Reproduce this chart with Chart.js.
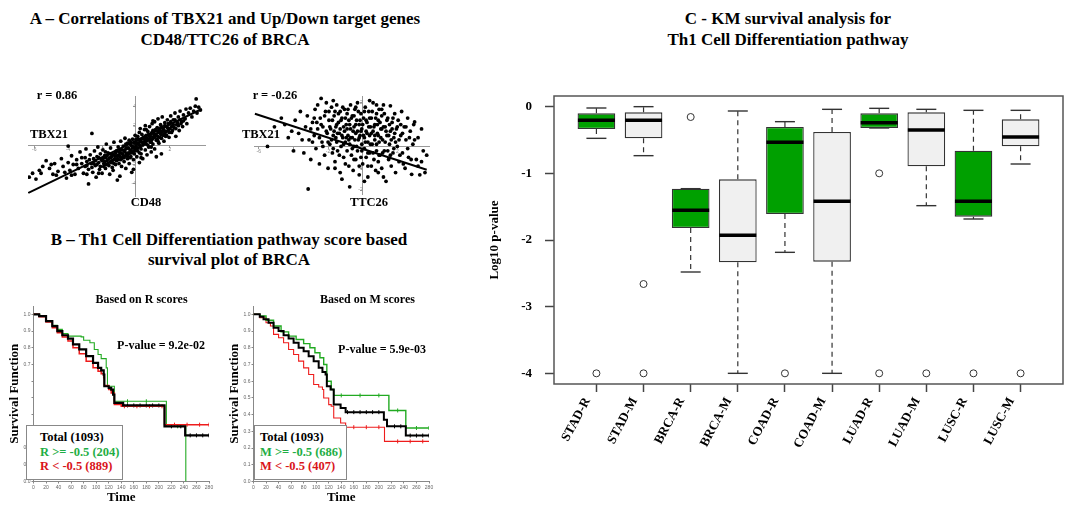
<!DOCTYPE html>
<html><head><meta charset="utf-8">
<script src="https://cdn.jsdelivr.net/npm/chart.js@4.4.1/dist/chart.umd.min.js"></script>
<style>
html,body{margin:0;padding:0;background:#fff;}
#root{position:relative;width:1068px;height:513px;overflow:hidden;font-family:'Liberation Serif','Times New Roman',serif;font-weight:bold;color:#000;}
canvas{position:absolute;}
.t{position:absolute;transform:translate(-50%,-50%);white-space:nowrap;line-height:1;}
.h{position:absolute;font-size:17px;line-height:21px;text-align:center;white-space:nowrap;}
.lg{position:absolute;border:1px solid #888;box-sizing:border-box;padding:4px 0 0 13px;font-size:12.5px;line-height:14.5px;white-space:nowrap;background:#fff;}
.g{color:#1fae45;} .r{color:#d9141b;}
</style></head><body>
<div id="root">
  <div class="h" style="left:0;top:8px;width:450px">A – Correlations of TBX21 and Up/Down target genes<br>CD48/TTC26 of BRCA</div>
  <div class="h" style="left:0;top:230px;width:458px;line-height:19.5px">B – Th1 Cell Differentiation pathway score based<br>survival plot of BRCA</div>
  <div class="h" style="left:588px;top:7.5px;width:400px">C - KM survival analysis for<br>Th1 Cell Differentiation pathway</div>

  <canvas id="cA1" width="178" height="108" style="left:28px;top:92px"></canvas>
  <canvas id="cA2" width="176" height="106" style="left:254px;top:92px"></canvas>
  <canvas id="cB1" width="225" height="213" style="left:0px;top:300px"></canvas>
  <canvas id="cB2" width="225" height="213" style="left:220px;top:300px"></canvas>
  <canvas id="cC" width="588" height="423" style="left:480px;top:90px"></canvas>

  <div class="t" style="left:57px;top:95px;font-size:12.5px">r = 0.86</div>
  <div class="t" style="left:49px;top:134px;font-size:12.5px">TBX21</div>
  <div class="t" style="left:146px;top:202px;font-size:12.5px">CD48</div>
  <div class="t" style="left:275px;top:95px;font-size:12.5px">r = -0.26</div>
  <div class="t" style="left:261px;top:134px;font-size:12.5px">TBX21</div>
  <div class="t" style="left:369px;top:202px;font-size:12.5px">TTC26</div>

  <div class="t" style="left:141.5px;top:299px;font-size:12px">Based on R scores</div>
  <div class="t" style="left:161px;top:345px;font-size:12px">P-value = 9.2e-02</div>
  <div class="lg" style="left:26px;top:425px;width:97px;height:55px">Total (1093)<br><span class="g">R &gt;= -0.5 (204)</span><br><span class="r">R &lt; -0.5 (889)</span></div>

  <div class="t" style="left:367.5px;top:299px;font-size:12px">Based on M scores</div>
  <div class="t" style="left:382px;top:349px;font-size:12px">P-value = 5.9e-03</div>
  <div class="lg" style="left:254px;top:425px;width:93px;height:55px;padding-left:5px">Total (1093)<br><span class="g">M &gt;= -0.5 (686)</span><br><span class="r">M &lt; -0.5 (407)</span></div>
</div>
<script>
// ---------------- Panel A data ----------------
const cd48Points = [
[-6.3,-3.3],[-6.1,-2.9],[-5.9,-3.5],[-5.7,-2.6],[-5.5,-2.2],[-5.3,-1.6],[-5.1,-2.4],[-4.9,-3.0],[-4.8,-1.9],[-4.6,-2.7],[-4.4,-1.4],[-4.3,-2.2],[-4.1,-3.4],[-4.0,-0.1],[-4.0,-1.8],
[-3.9,-2.6],[-3.8,-1.1],[-3.7,-2.0],[-3.6,-3.0],[-3.5,-1.5],[-3.4,-2.4],[-3.3,-0.7],[-3.2,-1.9],[-3.1,-2.9],[-3.0,-1.3],[-3.0,-2.2],
[-2.95,-0.4],[-2.9,-1.7],[-2.8,-4.0],[-2.8,-2.5],[-2.7,-1.0],[-2.65,-1.9],[-2.6,1.2],[-2.55,-2.8],[-2.5,-1.4],[-2.45,-0.6],[-2.4,-2.1],[-2.35,-3.3],[-2.3,-1.2],[-2.25,-0.2],[-2.2,-1.8],[-2.15,-2.5],[-2.1,-0.9],[-2.05,-1.5],
[-2.0,-2.9],[-1.95,-0.5],[-1.9,-1.9],[-1.85,-1.1],[-1.8,-2.4],[-1.75,0.1],[-1.7,-1.6],[-1.65,-0.8],[-1.6,-2.1],[-1.55,-3.0],[-1.5,-1.3],[-1.5,-0.3],[-1.45,-1.8],[-1.4,-0.9],[-1.35,-2.6],[-1.3,-1.5],[-1.3,0.3],[-1.25,-1.1],[-1.2,-2.0],[-1.15,-0.6],[-1.1,-1.4],[-1.1,-3.6],[-1.05,-0.2],[-1.0,-1.9],[-1.0,-1.0],
[-0.95,-3.2],[-0.95,-0.5],[-0.9,-1.5],[-0.9,0.4],[-0.85,-2.2],[-0.8,-0.9],[-0.8,-1.3],[-0.75,-0.1],[-0.7,-1.7],[-0.7,-0.6],[-0.65,0.7],[-0.6,-1.1],[-0.6,-2.4],[-0.55,-0.3],[-0.5,-1.4],[-0.5,0.2],[-0.45,-0.8],[-0.4,-1.9],[-0.4,0.5],[-0.35,-0.5],[-0.3,-1.2],[-0.3,0.0],[-0.25,-2.8],[-0.25,-0.8],[-0.2,0.6],[-0.2,-0.3],[-0.15,-1.5],[-0.1,0.2],[-0.1,-0.9],[-0.05,1.0],[-0.05,-0.4],[-0.15,-2.5],
[0.0,-0.1],[0.05,0.5],[0.05,-1.2],[0.1,0.9],[0.1,-0.6],[0.15,0.2],[0.2,-1.8],[0.2,1.3],[0.25,-0.2],[0.3,0.6],[0.3,-0.9],[0.35,1.1],[0.4,0.0],[0.4,-1.4],[0.45,0.8],[0.5,0.3],[0.5,1.6],[0.55,-0.5],[0.6,1.0],[0.6,0.1],[0.65,-1.0],[0.7,1.4],[0.7,0.5],[0.75,-0.2],[0.8,0.9],[0.8,1.9],[0.85,0.3],[0.9,-0.7],[0.9,1.2],[0.95,0.6],[0.95,2.2],[0.55,2.0],[0.25,1.7],
[1.0,0.1],[1.0,1.5],[1.05,0.9],[1.1,2.4],[1.1,-0.4],[1.15,1.1],[1.2,0.5],[1.25,1.8],[1.3,0.9],[1.3,2.7],[1.35,0.2],[1.4,1.4],[1.45,2.1],[1.5,0.7],[1.5,1.1],[1.55,2.9],[1.6,1.7],[1.65,0.4],[1.7,2.3],[1.7,1.2],[1.75,0.9],[1.8,1.9],[1.85,2.6],[1.9,1.5],[1.95,0.8],[1.5,-0.9],[1.2,-1.2],
[2.0,2.2],[2.05,3.0],[2.1,1.3],[2.2,2.6],[2.25,1.8],[2.3,3.3],[2.35,0.9],[2.4,2.1],[2.5,2.9],[2.55,1.5],[2.6,3.5],[2.7,2.4],[2.75,1.9],[2.8,3.1],[2.9,2.7],[2.95,3.7],
[3.0,2.2],[3.1,3.3],[3.2,3.8],[3.3,2.9],[3.4,3.5],[3.5,4.0],[3.55,4.75],[3.6,3.3],[3.7,3.9],[3.8,3.6],
[-2.9,-2.1],[-2.75,-1.5],[-2.6,-2.3],[-2.5,-1.9],[-2.4,-1.6],[-2.3,-2.0],[-2.2,-1.3],[-2.1,-2.2],[-2.0,-1.6],[-1.95,-1.4],[-1.9,-2.2],[-1.85,-1.7],[-1.8,-1.3],[-1.75,-2.0],[-1.7,-1.1],[-1.65,-1.9],[-1.6,-1.4],[-1.55,-0.9],[-1.5,-1.7],[-1.45,-1.2],[-1.4,-1.6],[-1.35,-1.0],[-1.3,-1.9],[-1.25,-1.4],[-1.2,-0.8],[-1.15,-1.6],[-1.1,-1.1],[-1.05,-1.5],[-1.0,-0.7],[-0.95,-1.2],[-0.9,-0.8],[-0.85,-1.4],[-0.8,-0.5],[-0.75,-1.1],[-0.7,-1.3],[-0.65,-0.7],[-0.6,-0.4],[-0.55,-0.9],[-0.5,-1.1],[-0.45,-0.3],[-0.4,-0.9],[-0.35,-1.3],[-0.3,-0.6],[-0.25,-0.1],[-0.2,-0.7],[-0.15,-0.2],[-0.1,-0.6],[-0.05,0.3],[0.0,-0.3],[0.05,0.1],[0.1,-0.3],[0.15,0.6],[0.2,0.0],[0.25,0.4],[0.3,-0.4],[0.35,0.3],[0.4,0.7],[0.45,0.1],[0.5,0.6],[0.55,0.9],[0.6,0.4],[0.65,0.7],[0.7,0.0],[0.75,1.1],[0.8,0.6],[0.85,0.9],[0.9,0.3],[0.95,1.3],[1.0,0.7],[1.05,1.2],[1.1,0.8],[1.15,1.6],[1.2,1.0],[1.25,0.6],[1.3,1.3],[1.35,1.7],[1.4,0.8],[1.45,1.2],[1.5,1.9],[1.55,1.4],[1.6,1.0],[1.65,1.5],[1.7,2.0],[1.75,1.4],[1.8,1.0],[1.85,1.8],[1.9,2.2],[1.95,1.3],[2.0,1.7],[2.05,2.4],[2.1,1.9],[2.15,1.5],[2.2,2.1],[2.3,2.6],[2.35,1.7],[2.45,2.3],[2.5,2.0],[2.6,2.6],[2.65,2.2],[2.8,2.5],[0.3,-1.3],[-0.6,0.1],[0.9,-0.2],[-1.8,-0.7],[1.3,0.4],[0.0,0.6],[-0.3,0.3],[0.6,1.6],[-2.2,-2.9],[-1.4,-2.3],[0.2,-0.8],[1.0,2.5],[-3.2,-1.3],[-3.5,-2.0],[-3.8,-3.1],[-2.9,-3.0],[-4.2,-2.8],[-5.0,-2.0],[-4.7,-3.1],[-5.6,-2.9]
];
const cd48Line = [[-6.35,-4.92],[3.88,3.71]];
const cd48XTicks = [-6,-4,-2,2];
const cd48YTicks = [4,2,-2,-4];

const ttc26Points = [
[-5.5,0.0],[-5.1,0.9],[-4.7,1.3],[-4.5,1.0],[-4.3,0.4],[-4.0,-0.2],[-3.9,1.2],[-3.7,0.6],[-3.6,1.6],
[-3.4,-0.3],[-3.3,0.9],[-3.2,1.4],[-3.15,-1.95],[-3.1,0.3],[-3.0,-0.6],[-2.9,1.1],[-2.8,0.5],[-2.75,1.7],[-2.7,-0.1],[-2.6,0.8],[-2.5,-0.8],[-2.45,1.3],[-2.4,2.2],[-2.35,0.2],[-2.3,0.9],[-2.2,-0.4],[-2.15,1.6],[-2.1,2.0],[-2.05,0.6],
[-2.0,-1.0],[-1.95,1.2],[-1.9,0.1],[-1.85,0.8],[-1.8,1.8],[-1.75,-0.3],[-1.7,0.5],[-1.65,1.4],[-1.6,-0.7],[-1.55,0.9],[-1.5,0.2],[-1.5,1.9],[-1.45,-0.2],[-1.4,1.1],[-1.35,0.6],[-1.3,-1.2],[-1.3,1.6],[-1.25,0.0],[-1.2,1.3],[-1.2,-1.5],[-1.15,0.4],[-1.1,0.9],[-1.1,-0.5],[-1.05,1.7],[-1.0,0.2],
[-0.95,1.0],[-0.9,-0.2],[-0.9,1.5],[-0.85,0.5],[-0.8,-0.9],[-0.8,1.2],[-0.75,0.1],[-0.75,-1.85],[-0.7,0.8],[-0.7,1.9],[-0.65,-0.4],[-0.6,0.4],[-0.6,1.4],[-0.55,-1.1],[-0.5,0.9],[-0.5,0.0],[-0.45,1.7],[-0.4,-0.6],[-0.4,0.6],[-0.35,1.2],[-0.3,-0.2],[-0.3,2.0],[-0.25,0.3],[-0.2,-1.3],[-0.2,1.0],[-0.15,0.5],[-0.1,-0.5],[-0.1,1.5],[-0.05,0.1],[-0.05,0.8],
[0.0,-0.8],[0.05,1.3],[0.1,0.4],[0.1,-0.1],[0.15,1.8],[0.2,0.7],[0.2,-0.5],[0.25,1.1],[0.3,-1.4],[0.3,0.2],[0.35,1.6],[0.4,0.5],[0.4,-0.3],[0.45,0.9],[0.5,-0.9],[0.5,1.3],[0.55,0.1],[0.6,0.7],[0.6,2.0],[0.65,-0.6],[0.7,1.0],[0.7,0.3],[0.75,-1.1],[0.8,1.5],[0.8,-0.2],[0.85,0.6],[0.9,1.2],[0.9,-0.7],[0.95,0.2],[0.95,1.7],
[1.0,-0.4],[1.05,0.8],[1.1,1.4],[1.1,-1.0],[1.15,0.3],[1.2,1.9],[1.25,-0.2],[1.3,0.9],[1.35,-1.6],[1.4,0.5],[1.45,1.3],[1.5,-0.6],[1.55,0.1],[1.6,1.86],[1.6,0.7],[1.65,-0.9],[1.7,1.1],[1.75,-0.3],[1.8,0.4],[1.85,1.5],[1.9,-1.2],[1.95,0.8],
[2.0,0.0],[2.05,1.2],[2.1,-0.7],[2.2,0.5],[2.25,1.6],[2.3,-0.3],[2.4,0.9],[2.45,-1.0],[2.5,0.3],[2.6,1.3],[2.65,-0.5],[2.75,0.7],[2.83,-1.28],[2.9,0.1],[2.95,1.0],
[3.0,1.12],[3.1,-0.6],[3.2,0.4],[3.3,-1.3],[3.4,0.8],[3.5,-0.2],[3.6,-1.2],[3.7,-0.4],
[-2.5,0.4],[-2.4,1.0],[-2.3,0.0],[-2.2,1.4],[-2.1,0.7],[-2.0,0.2],[-1.95,1.6],[-1.9,0.9],[-1.8,0.3],[-1.75,1.2],[-1.7,-0.1],[-1.65,0.7],[-1.6,1.6],[-1.55,0.4],[-1.5,1.0],[-1.45,0.6],[-1.4,1.5],[-1.35,-0.4],[-1.3,0.8],[-1.25,1.2],[-1.2,0.5],[-1.15,1.8],[-1.1,0.1],[-1.05,0.7],[-1.0,1.3],[-0.95,0.4],[-0.9,0.8],[-0.85,1.7],[-0.8,0.3],[-0.75,1.0],[-0.7,0.4],[-0.65,1.3],[-0.6,-0.1],[-0.55,0.7],[-0.5,1.4],[-0.45,0.3],[-0.4,1.0],[-0.35,0.0],[-0.3,0.7],[-0.25,1.6],[-0.2,0.4],[-0.15,1.2],[-0.1,0.7],[-0.05,-0.2],[0.0,1.0],[0.05,0.5],[0.1,1.6],[0.15,0.2],[0.2,1.2],[0.25,0.6],[0.3,-0.3],[0.35,0.9],[0.4,1.3],[0.45,0.1],[0.5,0.6],[0.55,1.6],[0.6,-0.3],[0.65,0.9],[0.7,0.5],[0.75,1.3],[0.8,0.1],[0.85,1.0],[0.9,0.5],[0.95,-0.4],[1.0,1.1],[1.05,0.4],[1.1,0.8],[1.15,-0.3],[1.2,0.9],[1.25,1.5],[1.3,0.2],[1.35,0.7],[1.4,1.2],[1.45,-0.2],[1.5,0.5],[1.55,1.0],[1.6,-0.4],[1.65,0.3],[1.7,0.8],[1.75,1.3],[1.8,-0.1],[1.85,0.6],[1.9,0.2],[2.0,0.9],[2.1,0.3],[2.15,-0.4],[2.2,1.0],[2.3,0.6],[2.35,-0.8],[2.5,0.9],[2.6,-0.1],[2.7,0.4],[2.8,-0.6],[3.0,0.3],[3.2,-0.9],[3.4,-0.7],[-3.0,0.8],[-2.9,0.2],[-2.65,1.1],[-2.8,1.3],[-3.5,0.3],[-4.1,0.7],[-0.5,-0.6],[-1.0,-0.8],[0.3,-0.9],[-0.2,-0.9],[0.9,-1.2],[-1.6,-1.0],[1.2,-1.4],[0.1,-1.6],[-0.4,1.8],[0.8,1.9],[-1.7,2.1],[0.4,2.1],[1.1,1.7],[-2.6,1.9]
];
const ttc26Line = [[-6.23,1.5],[3.7,-1.07]];
const ttc26XTicks = [-6,-4,-2,2];
const ttc26YTicks = [2,1,-1,-2];

// ---------------- Panel B data (Kaplan-Meier) ----------------
const kmTimeTicks = [0,20,40,60,80,100,120,140,160,180,200,220,240,260,280];
const kmSurvTicks = [0,0.1,0.2,0.3,0.4,0.5,0.6,0.7,0.8,0.9,1.0];

const rTotalTime = [0,9,20,30,38,46,55,63,73,84,95,103,108,112,113,120,124,127,129,143,209,242,280];
const rTotalSurv = [1.0,0.99,0.96,0.93,0.90,0.875,0.855,0.82,0.79,0.75,0.71,0.68,0.665,0.64,0.57,0.56,0.55,0.52,0.47,0.455,0.33,0.276,0.276];
const rTotalCensor = [[150,0.455],[160,0.455],[170,0.455],[180,0.455],[190,0.455],[200,0.455],[220,0.33],[235,0.33],[250,0.276],[260,0.276],[270,0.276],[280,0.276]];
const rHighTime = [0,10,20,30,38,46,55,76,80,90,97,103,108,116,118,129,212,243,243];
const rHighSurv = [1.0,0.99,0.96,0.935,0.91,0.885,0.87,0.865,0.845,0.83,0.79,0.76,0.735,0.68,0.57,0.48,0.33,0.0,0.0];
const rHighCensor = [[150,0.48],[180,0.48],[230,0.33]];
const rLowTime = [0,9,20,30,38,46,55,63,73,84,95,103,108,112,113,120,124,129,140,209,280];
const rLowSurv = [1.0,0.985,0.955,0.92,0.89,0.865,0.84,0.80,0.765,0.72,0.68,0.66,0.645,0.62,0.575,0.55,0.53,0.46,0.45,0.34,0.34];
const rLowCensor = [[145,0.45],[165,0.45],[185,0.45],[205,0.45],[225,0.34],[245,0.34],[265,0.34],[280,0.34]];

const mTotalTime = [0,10,16,24,32,40,48,56,64,72,80,88,96,104,110,115,117,123,128,139,147,208,213,243,280];
const mTotalSurv = [1.0,0.985,0.97,0.95,0.92,0.90,0.875,0.855,0.83,0.80,0.78,0.75,0.72,0.68,0.655,0.64,0.57,0.55,0.46,0.44,0.415,0.37,0.33,0.275,0.275];
const mTotalCensor = [[150,0.415],[160,0.415],[170,0.415],[180,0.415],[190,0.415],[200,0.415],[225,0.33],[235,0.33],[250,0.275],[260,0.275],[270,0.275],[280,0.275]];
const mHighTime = [0,10,20,32,44,56,68,80,90,98,106,112,117,124,128,216,243,280];
const mHighSurv = [1.0,0.99,0.965,0.93,0.895,0.87,0.85,0.825,0.80,0.77,0.74,0.70,0.60,0.55,0.515,0.425,0.32,0.32];
const mHighCensor = [[140,0.515],[170,0.515],[200,0.515],[230,0.425],[260,0.32],[280,0.32]];
const mLowTime = [0,10,20,27,32,40,48,56,64,72,80,88,96,104,110,112,120,124,128,139,147,209,280];
const mLowSurv = [1.0,0.98,0.95,0.93,0.88,0.86,0.83,0.79,0.76,0.72,0.68,0.64,0.58,0.565,0.55,0.50,0.46,0.45,0.38,0.35,0.325,0.24,0.24];
const mLowCensor = [[160,0.325],[180,0.325],[200,0.325],[230,0.24],[250,0.24],[270,0.24]];

// ---------------- Panel C data (box plot) ----------------
const categories = ['STAD-R','STAD-M','BRCA-R','BRCA-M','COAD-R','COAD-M','LUAD-R','LUAD-M','LUSC-R','LUSC-M'];
const whiskerHigh = [-0.02,0.0,-1.23,-0.065,-0.225,-0.04,-0.025,-0.04,-0.055,-0.055];
const boxTop      = [-0.10,-0.085,-1.23,-1.09,-0.305,-0.38,-0.10,-0.085,-0.66,-0.19];
const medians     = [-0.205,-0.205,-1.555,-1.93,-0.535,-1.42,-0.24,-0.35,-1.42,-0.455];
const boxBottom   = [-0.335,-0.475,-1.82,-2.335,-1.61,-2.325,-0.32,-0.895,-1.65,-0.595];
const whiskerLow  = [-0.475,-0.735,-2.48,-4.0,-2.185,-4.0,-0.32,-1.485,-1.685,-0.86];
const outlierIndex  = [0,1,1,2,4,6,6,7,8,9];
const outlierValues = [-4,-2.66,-4,-0.155,-4,-1.0,-4,-4,-4,-4];
const boxYTicks = [0,-1,-2,-3,-4];

// ---------------- common ----------------
Chart.defaults.font.family = "'Liberation Serif','Times New Roman',serif";
Chart.defaults.font.weight = 'bold';
const base = {responsive:false, animation:false, devicePixelRatio:1, events:[],
  plugins:{legend:{display:false}, tooltip:{enabled:false}}};
const tiny = {size:5, weight:'normal', family:"'Liberation Sans',Arial,sans-serif"};
const setTicks = arr => s => { s.ticks = arr.map(v => ({value:v})); };
const noPad = s => { s.paddingLeft = 0; s.paddingRight = 0; s.paddingTop = 0; s.paddingBottom = 0; };

function scatterChart(id, pts, line, xr, yr, xt, yt) {
  new Chart(document.getElementById(id), {
    type:'scatter',
    data:{datasets:[
      {type:'line', data: line.map(p=>({x:p[0],y:p[1]})), borderColor:'#000', borderWidth:2, pointRadius:0},
      {type:'scatter', data: pts.map(p=>({x:p[0],y:p[1]})), backgroundColor:'#000', borderWidth:0, pointRadius:1.9}
    ]},
    options:Object.assign({}, base, {
      layout:{padding:0, autoPadding:false},
      scales:{
        x:{type:'linear', position:{y:0}, min:xr[0], max:xr[1], afterBuildTicks:setTicks(xt),
           grid:{drawOnChartArea:false, tickLength:2, tickColor:'#999'}, border:{color:'#999', width:1},
           ticks:{font:tiny, color:'#888', padding:0}},
        y:{type:'linear', position:{x:0}, min:yr[0], max:yr[1], afterBuildTicks:setTicks(yt),
           grid:{drawOnChartArea:false, tickLength:2, tickColor:'#999'}, border:{color:'#999', width:1},
           ticks:{font:tiny, color:'#888', padding:1}}
      }
    })
  });
}
scatterChart('cA1', cd48Points, cd48Line, [-6.37,4.13], [-5.24,5.05], cd48XTicks, cd48YTicks);
scatterChart('cA2', ttc26Points, ttc26Line, [-6.28,3.89], [-2.18,2.31], ttc26XTicks, ttc26YTicks);

function kmChart(id, curves, hidden) {
  const ds = [];
  curves.forEach(c => {
    ds.push({type:'line', data: c.t.map((t,i)=>({x:t, y:c.s[i]})), stepped:'before',
      borderColor:c.color, borderWidth:c.w, pointRadius:0, fill:false});
  });
  curves.forEach(c => {
    ds.push({type:'scatter', data: c.cens.map(p=>({x:p[0], y:p[1]})), pointStyle:'line', pointRotation:90,
      pointRadius:2, borderColor:c.color, borderWidth:1});
  });
  new Chart(document.getElementById(id), {
    type:'line',
    data:{datasets: ds},
    options:Object.assign({}, base, {
      layout:{padding:{top:6, right:16, left:0, bottom:0}, autoPadding:false},
      scales:{
        x:{type:'linear', min:0, max:280, afterBuildTicks:setTicks(kmTimeTicks), afterFit:s=>{s.height=31.5; noPad(s);},
           grid:{drawOnChartArea:false, tickLength:2, tickColor:'#888'}, border:{color:'#888', width:1},
           ticks:{font:tiny, color:'#666', padding:1, maxRotation:0, autoSkip:false},
           title:{display:true, text:'Time', color:'#000', font:{size:13, weight:'bold'}, padding:{top:0, bottom:8}}},
        y:{type:'linear', min:0, max:1.05, afterBuildTicks:setTicks(kmSurvTicks), afterFit:s=>{s.width=33.5; noPad(s);},
           grid:{drawOnChartArea:false, tickLength:2, tickColor:'#888'}, border:{color:'#888', width:1},
           ticks:{font:tiny, color:'#666', padding:1, autoSkip:false,
                  callback:v => hidden.some(h=>Math.abs(h-v)<1e-6) ? '' : Number(v).toFixed(1)},
           title:{display:true, text:'Survival Function', color:'#000', font:{size:13, weight:'bold'}, padding:{top:7, bottom:0}}}
      }
    })
  });
}
kmChart('cB1', [
  {t:rTotalTime, s:rTotalSurv, cens:rTotalCensor, color:'#000', w:2.2},
  {t:rLowTime, s:rLowSurv, cens:rLowCensor, color:'#ee1c1c', w:1.5},
  {t:rHighTime, s:rHighSurv, cens:rHighCensor, color:'#22aa22', w:1.1}
], [0.3,0.4,0.5,0.6]);
kmChart('cB2', [
  {t:mTotalTime, s:mTotalSurv, cens:mTotalCensor, color:'#000', w:2},
  {t:mHighTime, s:mHighSurv, cens:mHighCensor, color:'#22aa22', w:1.4},
  {t:mLowTime, s:mLowSurv, cens:mLowCensor, color:'#ee1c1c', w:1.1}
], []);

// box plot
const xPos = categories.map((c,i)=>i+1);
const whiskerData = [];
xPos.forEach((x,i)=>{
  whiskerData.push({x, y:boxTop[i]}, {x, y:whiskerHigh[i]}, {x, y:null},
                   {x, y:boxBottom[i]}, {x, y:whiskerLow[i]}, {x, y:null});
});
const capData = [];
xPos.forEach((x,i)=>{ capData.push({x, y:whiskerHigh[i]}, {x, y:whiskerLow[i]}); });
const framePlugin = {id:'frame', afterDraw(chart){
  const {ctx, chartArea:a} = chart;
  ctx.save(); ctx.strokeStyle='#555'; ctx.lineWidth=1.5;
  ctx.strokeRect(a.left, a.top, a.right-a.left, a.bottom-a.top); ctx.restore();
}};
new Chart(document.getElementById('cC'), {
  type:'bar',
  data:{datasets:[
    {type:'bar', data: xPos.map((x,i)=>({x, y:[boxBottom[i], boxTop[i]]})),
     backgroundColor: categories.map(c => c.endsWith('-R') ? '#00a000' : '#f0f0f0'),
     borderColor:'#333', borderWidth:1.3, borderSkipped:false, categoryPercentage:0.8, barPercentage:1, order:3},
    {type:'line', data: whiskerData, borderColor:'#333', borderWidth:1.2, borderDash:[5,4], pointRadius:0, spanGaps:false, order:4},
    {type:'scatter', data: capData, pointStyle:'line', pointRadius:10, borderColor:'#333', borderWidth:1.4, order:2},
    {type:'scatter', data: xPos.map((x,i)=>({x, y:medians[i]})), pointStyle:'line', pointRadius:18.5, borderColor:'#000', borderWidth:3.5, order:1},
    {type:'scatter', data: outlierIndex.map((k,i)=>({x:xPos[k], y:outlierValues[i]})), pointStyle:'circle', pointRadius:3.5,
     backgroundColor:'#fff', borderColor:'#333', borderWidth:1, order:1}
  ]},
  options:Object.assign({}, base, {
    layout:{padding:{top:6, right:5, left:0, bottom:0}, autoPadding:false},
    scales:{
      x:{type:'linear', min:0.1, max:10.9, offset:false, afterBuildTicks:setTicks(xPos), afterFit:s=>{s.height=129; noPad(s);},
         grid:{display:true, drawOnChartArea:false, offset:false, tickLength:8, tickColor:'#444', tickWidth:1.5},
         border:{display:false},
         ticks:{autoSkip:false, minRotation:62, maxRotation:62, padding:3, labelOffset:-9, color:'#000', font:{size:13, weight:'bold'},
                callback:v => categories[Math.round(v)-1]}},
      y:{type:'linear', min:-4.16, max:0.16, afterBuildTicks:setTicks(boxYTicks), afterFit:s=>{s.width=74; noPad(s);},
         grid:{display:true, drawOnChartArea:false, tickLength:9, tickColor:'#444', tickWidth:1.5},
         border:{display:false},
         ticks:{padding:13, color:'#000', font:{size:13, weight:'bold'}, callback:v => String(v)},
         title:{display:true, text:'Log10 p-value', color:'#000', font:{size:13, weight:'bold'}, padding:{top:7, bottom:0}}}
    }
  }),
  plugins:[framePlugin]
});
</script>
</body></html>
